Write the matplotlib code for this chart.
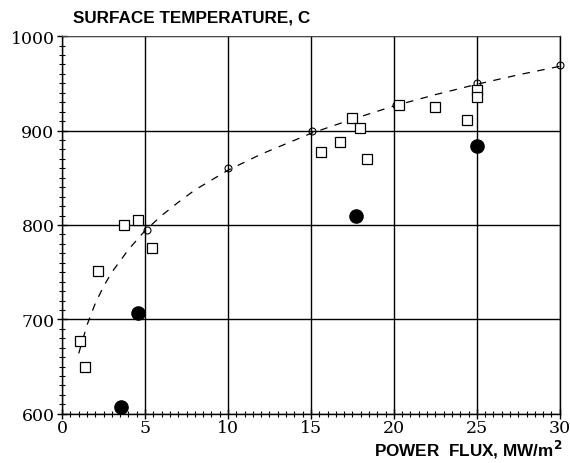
import matplotlib as mpl
import matplotlib.pyplot as plt
from matplotlib.ticker import MultipleLocator

# fitted curve (dashed)
fit_x = [1.0, 1.5, 2, 2.5, 3, 4, 5, 6, 7, 8, 10, 12, 15, 17.5, 20, 22.5, 25, 27.5, 30]
fit_t = [664, 694, 717, 735, 750, 774, 794, 810, 824, 837, 858, 875, 897, 912, 926, 938, 949, 959, 968]

# small open circles on the curve
calc_x = [5.1, 10, 15.05, 20.1, 25, 30]
calc_t = [795, 860, 899, 927, 950, 969]

# open squares
sq_x = [1.1, 1.4, 2.15, 3.75, 4.6, 5.4, 15.6, 16.75, 17.45, 17.95, 18.35, 20.3, 22.5, 24.4, 25.0, 25.0]
sq_t = [677, 650, 751, 800, 805, 776, 877, 888, 913, 903, 870, 927, 925, 911, 943, 936]

# filled circles
dot_x = [3.55, 4.6, 17.7, 25.0]
dot_t = [607, 707, 809, 884]

mpl.rcParams['font.family'] = 'DejaVu Serif'

fig = plt.figure(figsize=(5.7, 4.64), dpi=100)
ax = fig.add_axes([0.109, 0.106, 0.873, 0.814])

ax.set_xlim(0, 30)
ax.set_ylim(600, 1000)
ax.xaxis.set_major_locator(MultipleLocator(5))
ax.xaxis.set_minor_locator(MultipleLocator(0.5))
ax.yaxis.set_major_locator(MultipleLocator(100))
ax.yaxis.set_minor_locator(MultipleLocator(10))
ax.tick_params(which='major', direction='inout', length=7, width=1, labelsize=12.5, colors='black')
ax.tick_params(which='minor', direction='inout', length=4, width=0.8)
ax.tick_params(axis='x', which='major', pad=0.5)
ax.tick_params(axis='y', which='major', pad=2)
ax.grid(True, which='major', color='black', linewidth=1.0)

for s in ['left', 'bottom', 'right']:
    ax.spines[s].set_linewidth(1.0)
ax.spines['top'].set_linewidth(0.6)
ax.spines['top'].set_color('#555555')

ax.plot(fit_x, fit_t, color='black', linestyle=(0, (6, 6)), linewidth=0.9, zorder=3)
ax.plot(calc_x, calc_t, 'o', markersize=5, markerfacecolor='none',
        markeredgecolor='black', markeredgewidth=0.8, zorder=4, clip_on=False)
ax.plot(sq_x, sq_t, 's', markersize=7, markerfacecolor='white',
        markeredgecolor='black', markeredgewidth=0.9, zorder=4)
ax.plot(dot_x, dot_t, 'o', markersize=9.5, color='black', zorder=5)

fig.text(0.128, 0.961, 'SURFACE TEMPERATURE, C', family='Liberation Sans',
         weight='bold', fontsize=12.3, ha='left', va='center')
fig.text(0.987, 0.030, 'POWER  FLUX, MW/m$^\\mathbf{2}$', family='Liberation Sans',
         weight='bold', fontsize=12.3, ha='right', va='center')

fig.savefig('out.png', dpi=100)
